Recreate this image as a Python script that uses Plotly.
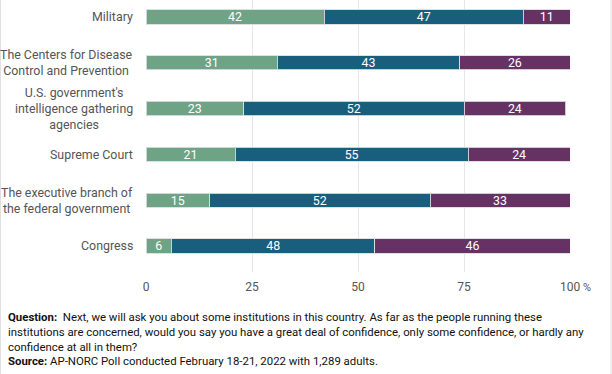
import plotly.graph_objects as go

categories = ["Military", "The Centers for Disease<br>Control and Prevention",
              "U.S. government's<br>intelligence gathering<br>agencies", "Supreme Court",
              "The executive branch of<br>the federal government", "Congress"]
great_deal = [42, 31, 23, 21, 15, 6]
only_some = [47, 43, 52, 55, 52, 48]
hardly_any = [11, 26, 24, 24, 33, 46]
tick_vals = [0, 25, 50, 75, 100]
tick_text = ["0", "25", "50", "75", "100"]

colors = ["#6ea386", "#1a5e7e", "#663264"]
series = [("A great deal", great_deal), ("Only some", only_some), ("Hardly any", hardly_any)]

fig = go.Figure()
ypos = list(range(len(categories)))
for (name, vals), c in zip(series, colors):
    fig.add_trace(go.Bar(
        y=ypos, x=vals, name=name, orientation="h",
        marker=dict(color=c, line=dict(color="rgba(220,220,225,0.9)", width=1)),
        width=0.31, text=vals, texttemplate="%{text}", textposition="inside",
        insidetextanchor="middle", textangle=0, constraintext="none",
        textfont=dict(color="white", size=12.4, family="Roboto"),
        hoverinfo="skip", showlegend=False,
    ))

for i, cat in enumerate(categories):
    fig.add_annotation(x=0, xref="paper", xanchor="right", xshift=-11,
                       y=i, yref="y", yanchor="middle", text=cat, align="center",
                       showarrow=False, font=dict(size=12.4, color="#555", family="Roboto"))

fig.add_annotation(x=100, xref="x", xanchor="left", xshift=11, y=0, yref="paper",
                   yanchor="top", yshift=-7, text="%", showarrow=False,
                   font=dict(size=11, color="#555", family="Roboto"))

fig.add_annotation(
    x=0, xref="paper", xanchor="left", xshift=-140,
    y=0, yref="paper", yanchor="top", yshift=-36, align="left", showarrow=False,
    text=("<b>Question:</b>  Next, we will ask you about some institutions in this country. As far as the people running these<br>"
          "institutions are concerned, would you say you have a great deal of confidence, only some confidence, or hardly any<br>"
          "confidence at all in them?<br><b>Source:</b> AP-NORC Poll conducted February 18-21, 2022 with 1,289 adults."),
    font=dict(size=11.4, color="#111", family="Roboto"))

# faint frame edges on left and right of the card
for xp in [(0.5 - 146) / 424, (611 - 146) / 424]:
    fig.add_shape(type="line", xref="paper", yref="paper", x0=xp, x1=xp,
                  y0=1, y1=-102 / 272, line=dict(color="#e0e0e0", width=1))

fig.update_layout(
    barmode="stack", width=612, height=374, paper_bgcolor="white", plot_bgcolor="white",
    margin=dict(l=146, r=42, t=0, b=102),
    font=dict(family="Roboto", size=12, color="#555"),
    xaxis=dict(range=[0, 100], tickvals=tick_vals, ticktext=tick_text, showgrid=True,
               gridcolor="#e6e6e6", gridwidth=1, zeroline=False, showline=False,
               ticks="", ticklabelstandoff=6, tickfont=dict(size=12, color="#555"),
               fixedrange=True),
    yaxis=dict(range=[5.57, -0.37], showticklabels=False, showgrid=False, zeroline=False,
               fixedrange=True),
)
fig.write_html("out.html", config={"displayModeBar": False},
               post_script="document.body.style.margin='0';")
